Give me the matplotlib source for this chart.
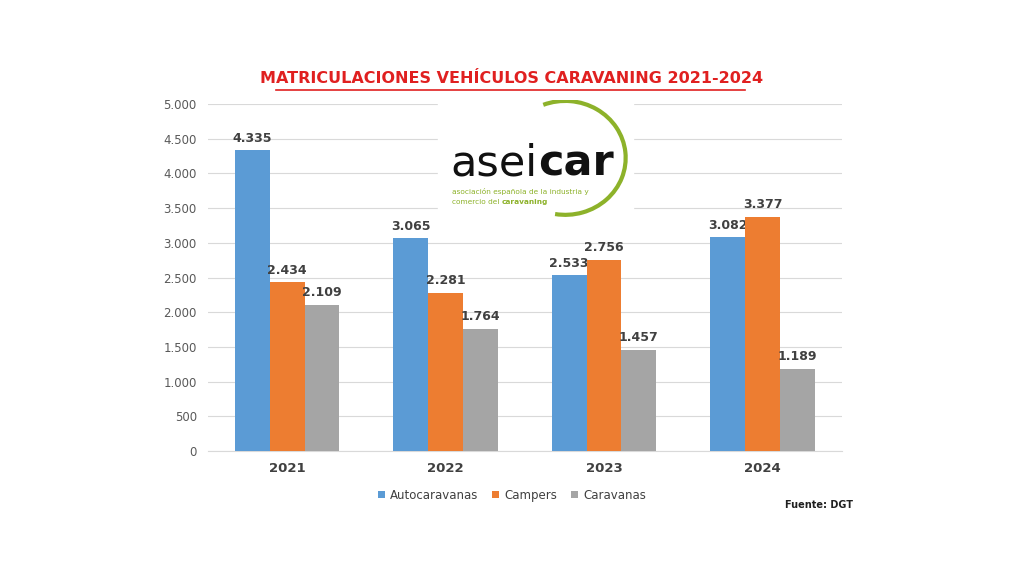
import matplotlib
matplotlib.use("Agg")
import matplotlib.pyplot as plt
from matplotlib.patches import Arc, Rectangle
from matplotlib.transforms import offset_copy
import numpy as np

years = ["2021", "2022", "2023", "2024"]
autocaravanas = [4335, 3065, 2533, 3082]
campers = [2434, 2281, 2756, 3377]
caravanas = [2109, 1764, 1457, 1189]
series_names = ["Autocaravanas", "Campers", "Caravanas"]
colors = ["#5B9BD5", "#ED7D31", "#A5A5A5"]

def fmt(v):
    return f"{v:,}".replace(",", ".")

fig = plt.figure(figsize=(10.24, 5.71), dpi=100)
ax = fig.add_axes([0.203, 0.21, 0.619, 0.608])
x = np.arange(len(years))
w = 0.22
for i, (vals, c, n) in enumerate(zip([autocaravanas, campers, caravanas], colors, series_names)):
    bars = ax.bar(x + (i - 1) * w, vals, w, color=c, label=n, zorder=3)
    for b, v in zip(bars, vals):
        ax.text(b.get_x() + b.get_width() / 2, v + 80, fmt(v), ha="center", va="bottom",
                fontsize=9, fontweight="bold", color="#404040")
ax.set_xlim(-0.5, 3.5)
ax.set_ylim(0, 5000)
yt = np.arange(0, 5001, 500)
ax.set_yticks(yt)
ax.set_yticklabels([fmt(int(v)) for v in yt], fontsize=8.5, color="#595959")
ax.set_xticks(x)
ax.set_xticklabels(years, fontsize=9.5, fontweight="bold", color="#404040")
ax.grid(axis="y", color="#D9D9D9", lw=0.8, zorder=0)
for s in ["top", "right", "left"]:
    ax.spines[s].set_visible(False)
ax.spines["bottom"].set_color("#D9D9D9")
ax.tick_params(length=0, pad=8)

leg = fig.legend(loc="center", bbox_to_anchor=(0.5, 0.133), ncol=3, frameon=False,
                 fontsize=8.5, handlelength=0.6, handleheight=0.6, columnspacing=1.2, handletextpad=0.4)
for t in leg.get_texts():
    t.set_color("#404040")

fig.text(0.5, 0.862, "MATRICULACIONES VEHÍCULOS CARAVANING 2021-2024", ha="center", va="center",
         fontsize=11.5, fontweight="bold", color="#E02020")
fig.add_artist(plt.Line2D([0.27, 0.728], [0.843, 0.843], color="#E02020", lw=1.2))
fig.text(0.8, 0.115, "Fuente: DGT", ha="center", va="center", fontsize=7, fontweight="bold", color="#202020")

# logo
fig.add_artist(Rectangle((0.428, 0.62), 0.19, 0.2, transform=fig.transFigure, color="white", zorder=5))
lax = fig.add_axes([0.428, 0.615, 0.2, 0.21], zorder=6)
lax.set_xlim(0, 200); lax.set_ylim(0, 120); lax.axis("off")
lax.add_patch(Arc((124, 62), 118, 114, theta1=-100, theta2=112, color="#8DB22A", lw=3))
t1 = lax.text(12, 44, "asei", fontsize=31, color="#111111", va="baseline", ha="left")
fig.canvas.draw()
ext = t1.get_window_extent()
tr = offset_copy(lax.transData, fig=fig, x=ext.width, y=0, units="dots")
lax.text(12, 44, "car", fontsize=31, color="#111111", fontweight="bold", va="baseline", ha="left", transform=tr)
lax.text(13, 28, "asociación española de la industria y", fontsize=5.3, color="#8DB22A", va="center")
t2 = lax.text(13, 18, "comercio del ", fontsize=5.3, color="#8DB22A", va="center")
fig.canvas.draw()
e2 = t2.get_window_extent()
tr2 = offset_copy(lax.transData, fig=fig, x=e2.width, y=0, units="dots")
lax.text(13, 18, "caravaning", fontsize=5.3, color="#8DB22A", fontweight="bold", va="center", transform=tr2)

fig.savefig("out.png", dpi=100, facecolor="white")
